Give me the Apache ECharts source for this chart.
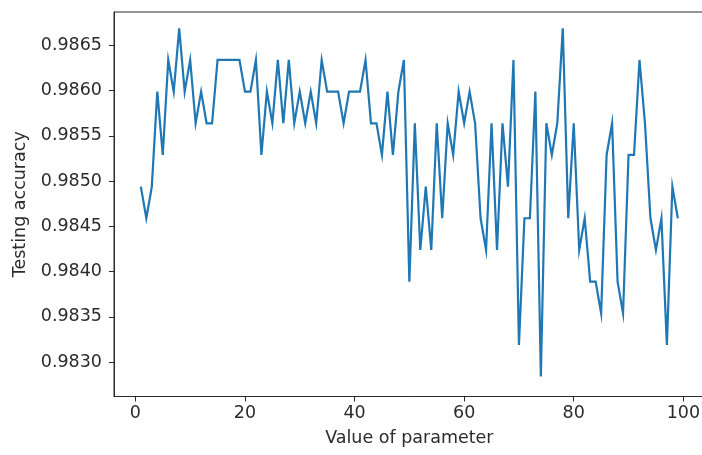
<!DOCTYPE html>
<html>
<head>
<meta charset="utf-8">
<script src="https://cdn.jsdelivr.net/npm/echarts@6/dist/echarts.min.js"></script>
<style>
  html, body { margin: 0; padding: 0; background: #ffffff; }
  #chart { width: 702px; height: 455px; }
</style>
</head>
<body>
<div id="chart"></div>
<script>
// Parameter values swept (x axis)
const paramValues = [
  1, 2, 3, 4, 5, 6, 7, 8, 9, 10,
  11, 12, 13, 14, 15, 16, 17, 18, 19, 20,
  21, 22, 23, 24, 25, 26, 27, 28, 29, 30,
  31, 32, 33, 34, 35, 36, 37, 38, 39, 40,
  41, 42, 43, 44, 45, 46, 47, 48, 49, 50,
  51, 52, 53, 54, 55, 56, 57, 58, 59, 60,
  61, 62, 63, 64, 65, 66, 67, 68, 69, 70,
  71, 72, 73, 74, 75, 76, 77, 78, 79, 80,
  81, 82, 83, 84, 85, 86, 87, 88, 89, 90,
  91, 92, 93, 94, 95, 96, 97, 98, 99
];

// Testing accuracy for each parameter value
const testAccuracy = [
  0.98494, 0.98459, 0.98494, 0.98599, 0.98529, 0.98634, 0.98599, 0.98669, 0.98599, 0.98634,
  0.98564, 0.98599, 0.98564, 0.98564, 0.98634, 0.98634, 0.98634, 0.98634, 0.98634, 0.98599,
  0.98599, 0.98634, 0.98529, 0.98599, 0.98564, 0.98634, 0.98564, 0.98634, 0.98564, 0.98599,
  0.98564, 0.98599, 0.98564, 0.98634, 0.98599, 0.98599, 0.98599, 0.98564, 0.98599, 0.98599,
  0.98599, 0.98634, 0.98564, 0.98564, 0.98529, 0.98599, 0.98529, 0.98599, 0.98634, 0.98389,
  0.98564, 0.98424, 0.98494, 0.98424, 0.98564, 0.98459, 0.98564, 0.98529, 0.98599, 0.98564,
  0.98599, 0.98564, 0.98459, 0.98424, 0.98564, 0.98424, 0.98564, 0.98494, 0.98634, 0.98319,
  0.98459, 0.98459, 0.98599, 0.98284, 0.98564, 0.98529, 0.98564, 0.98669, 0.98459, 0.98564,
  0.98424, 0.98459, 0.98389, 0.98389, 0.98354, 0.98529, 0.98564, 0.98389, 0.98354, 0.98529,
  0.98529, 0.98634, 0.98564, 0.98459, 0.98424, 0.98459, 0.98319, 0.98494, 0.98459
];

// Tick positions
const xTicks = [0, 20, 40, 60, 80, 100];
const yTicks = [0.9830, 0.9835, 0.9840, 0.9845, 0.9850, 0.9855, 0.9860, 0.9865];

const FONT = 'DejaVu Sans';
const INK = '#2b2b2b';

const chart = echarts.init(document.getElementById('chart'), null, { renderer: 'canvas' });

chart.setOption({
  animation: false,
  backgroundColor: '#ffffff',
  grid: {
    left: 114,
    top: 12,
    width: 590.7,
    height: 384.5,
    show: true,
    borderColor: INK,
    borderWidth: 1,
    backgroundColor: 'transparent',
    containLabel: false,
    outerBoundsMode: 'none'
  },
  xAxis: {
    type: 'value',
    min: -3.9,
    max: 103.9,
    name: 'Value of parameter',
    nameLocation: 'middle',
    nameGap: 33,
    nameTextStyle: { fontFamily: FONT, fontSize: 17.5, color: INK },
    axisLine: { show: true, onZero: false, lineStyle: { color: INK, width: 1 } },
    axisTick: { show: true, inside: false, length: 5, customValues: xTicks, lineStyle: { color: INK, width: 1 } },
    axisLabel: {
      customValues: xTicks,
      margin: 8,
      fontFamily: FONT,
      fontSize: 17.5,
      color: INK,
      formatter: v => String(v)
    },
    splitLine: { show: false }
  },
  yAxis: {
    type: 'value',
    min: 0.98262,
    max: 0.98687,
    name: 'Testing accuracy',
    nameLocation: 'middle',
    nameGap: 80,
    nameTextStyle: { fontFamily: FONT, fontSize: 17.5, color: INK },
    axisLine: { show: true, onZero: false, lineStyle: { color: INK, width: 1 } },
    axisTick: { show: true, inside: false, length: 5, customValues: yTicks, lineStyle: { color: INK, width: 1 } },
    axisLabel: {
      customValues: yTicks,
      margin: 12,
      fontFamily: FONT,
      fontSize: 17.5,
      color: INK,
      formatter: v => v.toFixed(4)
    },
    splitLine: { show: false }
  },
  series: [{
    type: 'line',
    data: paramValues.map((p, i) => [p, testAccuracy[i]]),
    showSymbol: false,
    symbol: 'none',
    lineStyle: { color: '#1f77b4', width: 2.2, join: 'miter' },
    z: 3
  }]
});
</script>
</body>
</html>
